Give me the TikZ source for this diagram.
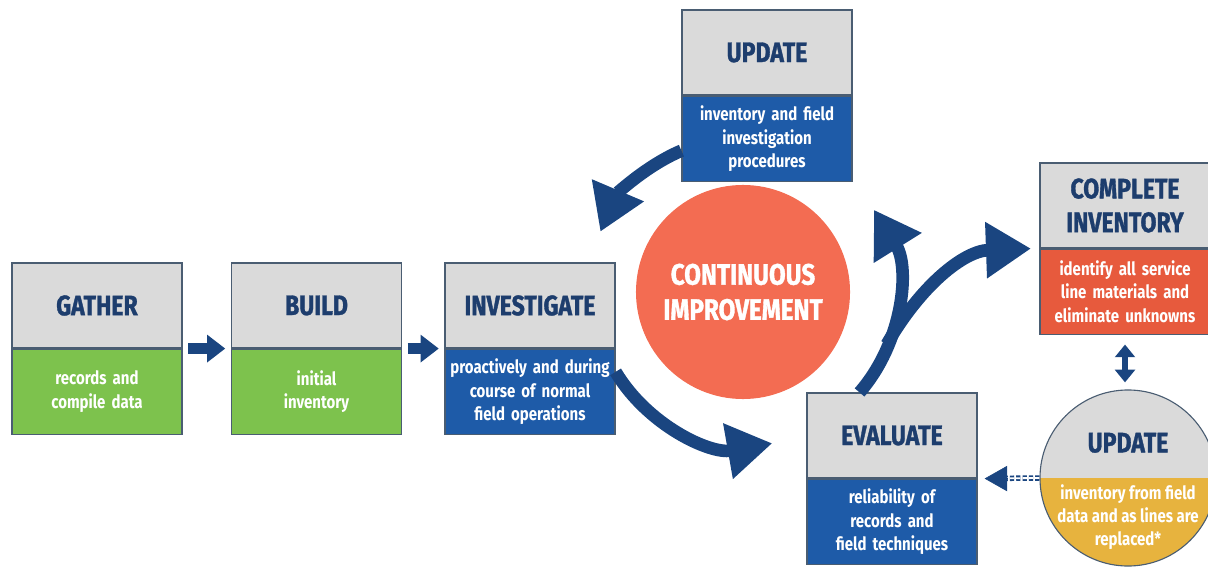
\documentclass[tikz,border=0pt]{standalone}
\usepackage{fontspec}
\setmainfont{Fira Sans}[FakeStretch=0.82]
\newfontfamily\heavy{Fira Sans}[FakeStretch=0.82, BoldFeatures={FakeBold=1.2}]
\usepackage{tikz}
\usetikzlibrary{arrows.meta,positioning,calc}
\definecolor{hd}{HTML}{DADADA}
\definecolor{tt}{HTML}{1D3D6D}
\definecolor{gr}{HTML}{7DC24D}
\definecolor{bl}{HTML}{1E5BA8}
\definecolor{rd}{HTML}{F36C52}
\definecolor{or}{HTML}{E75A3D}
\definecolor{yl}{HTML}{E7B33E}
\definecolor{nv}{HTML}{1A4580}
\definecolor{ed}{HTML}{4A5D72}
\tikzset{
    head/.style={draw=ed, line width=0.8pt, fill=hd, minimum width=4.25cm,
    minimum height=2.125cm, inner sep=0pt, align=center, text=tt,
    font=\heavy\bfseries\fontsize{20}{24}\selectfont},
    body/.style={draw=ed, line width=0.8pt, minimum width=4.25cm,
    minimum height=2.125cm, inner sep=0pt, text width=4.1cm, align=center,
    text=white, font=\bfseries\fontsize{13}{16.5}\selectfont},
    bigarrow/.style={nv, line width=9pt, -{Triangle[length=32pt,width=38pt]}},
    smallarrow/.style={nv, line width=7.5pt, -{Triangle[length=13pt,width=19pt]},
    shorten <=4pt, shorten >=4pt},
    dashlink/.style={nv, line width=1.3pt, double=white, double distance=1.3pt,
    dash pattern=on 3pt off 1.5pt},
}
\newcommand{\stage}[6]{
    \node[head] (#1) at (#2,#3) {#4};
    \node[body, fill=#6, below=0pt of #1] (#1-b) {#5};
}

\begin{document}
\begin{tikzpicture}[x=0.025cm, y=0.025cm]
        \useasboundingbox (0,0) rectangle (1208,567);

        \stage{gather}{97}{261.5}{GATHER}{records and\\compile data}{gr};
        \stage{build}{316.5}{261.5}{BUILD}{initial\\inventory}{gr};
        \stage{invest}{530}{261.5}{INVESTIGATE}{proactively and during\\course of normal\\field operations}{bl};
        \stage{update}{767}{514.5}{UPDATE}{inventory and field\\investigation\\procedures}{bl};
        \stage{complete}{1125}{361.5}{COMPLETE\\INVENTORY}{identify all service\\line materials and\\eliminate unknowns}{or};
        \stage{evaluate}{892}{131.5}{EVALUATE}{reliability of\\records and\\field techniques}{bl};

        \node[circle, fill=rd, minimum size=5.35cm, align=center, text=white,
        font=\heavy\bfseries\fontsize{21}{25}\selectfont] (improve) at (743,275)
        {CONTINUOUS\\IMPROVEMENT};

        % field update circle, lower half yellow
        \node[circle, draw=ed, line width=0.8pt, fill=hd, minimum size=4.4cm,
        path picture={\fill[yl] (path picture bounding box.west) rectangle
        (path picture bounding box.south east);}] (fieldupd) at (1128,89) {};
        \node[text=tt, font=\heavy\bfseries\fontsize{20}{24}\selectfont]
        (fieldupd-t) at ([yshift=25pt]fieldupd.center) {UPDATE};
        \node[text=white, align=center, font=\bfseries\fontsize{13}{16.5}\selectfont]
        (fieldupd-b) at ([yshift=-28pt]fieldupd.center)
        {inventory from field\\data and as lines are\\replaced*};

        \draw[smallarrow] (gather.south east) -- (build.south west);
        \draw[smallarrow] (build.south east) -- (invest.south west);

        % loop round the hub
        \draw[bigarrow] (invest-b.13) arc[start angle=211, end angle=280, radius=152];
        \draw[bigarrow] (evaluate.127) arc[start angle=-41, end angle=32, radius=154];
        \draw[bigarrow] (update-b.188) arc[start angle=113, end angle=157, radius=153];
        \coordinate (fork) at ($(improve.center)+(-20:153)$);
        \draw[bigarrow] (fork) to[out=60, in=182] ([xshift=-6pt]complete.south west);

        \draw[nv, line width=4pt, {Triangle[length=9pt,width=14pt]}-{Triangle[length=9pt,width=14pt]},
        shorten <=7pt, shorten >=5pt] (complete-b.south) -- (complete-b.south |- fieldupd.north);

        \draw[dashlink, shorten >=21pt] (fieldupd.west) -- (evaluate.south east);
        \draw[nv, -{Triangle[length=16pt,width=18pt]}, shorten >=5pt]
        ([xshift=21pt]evaluate.south east) -- (evaluate.south east);

\end{tikzpicture}
\end{document}
